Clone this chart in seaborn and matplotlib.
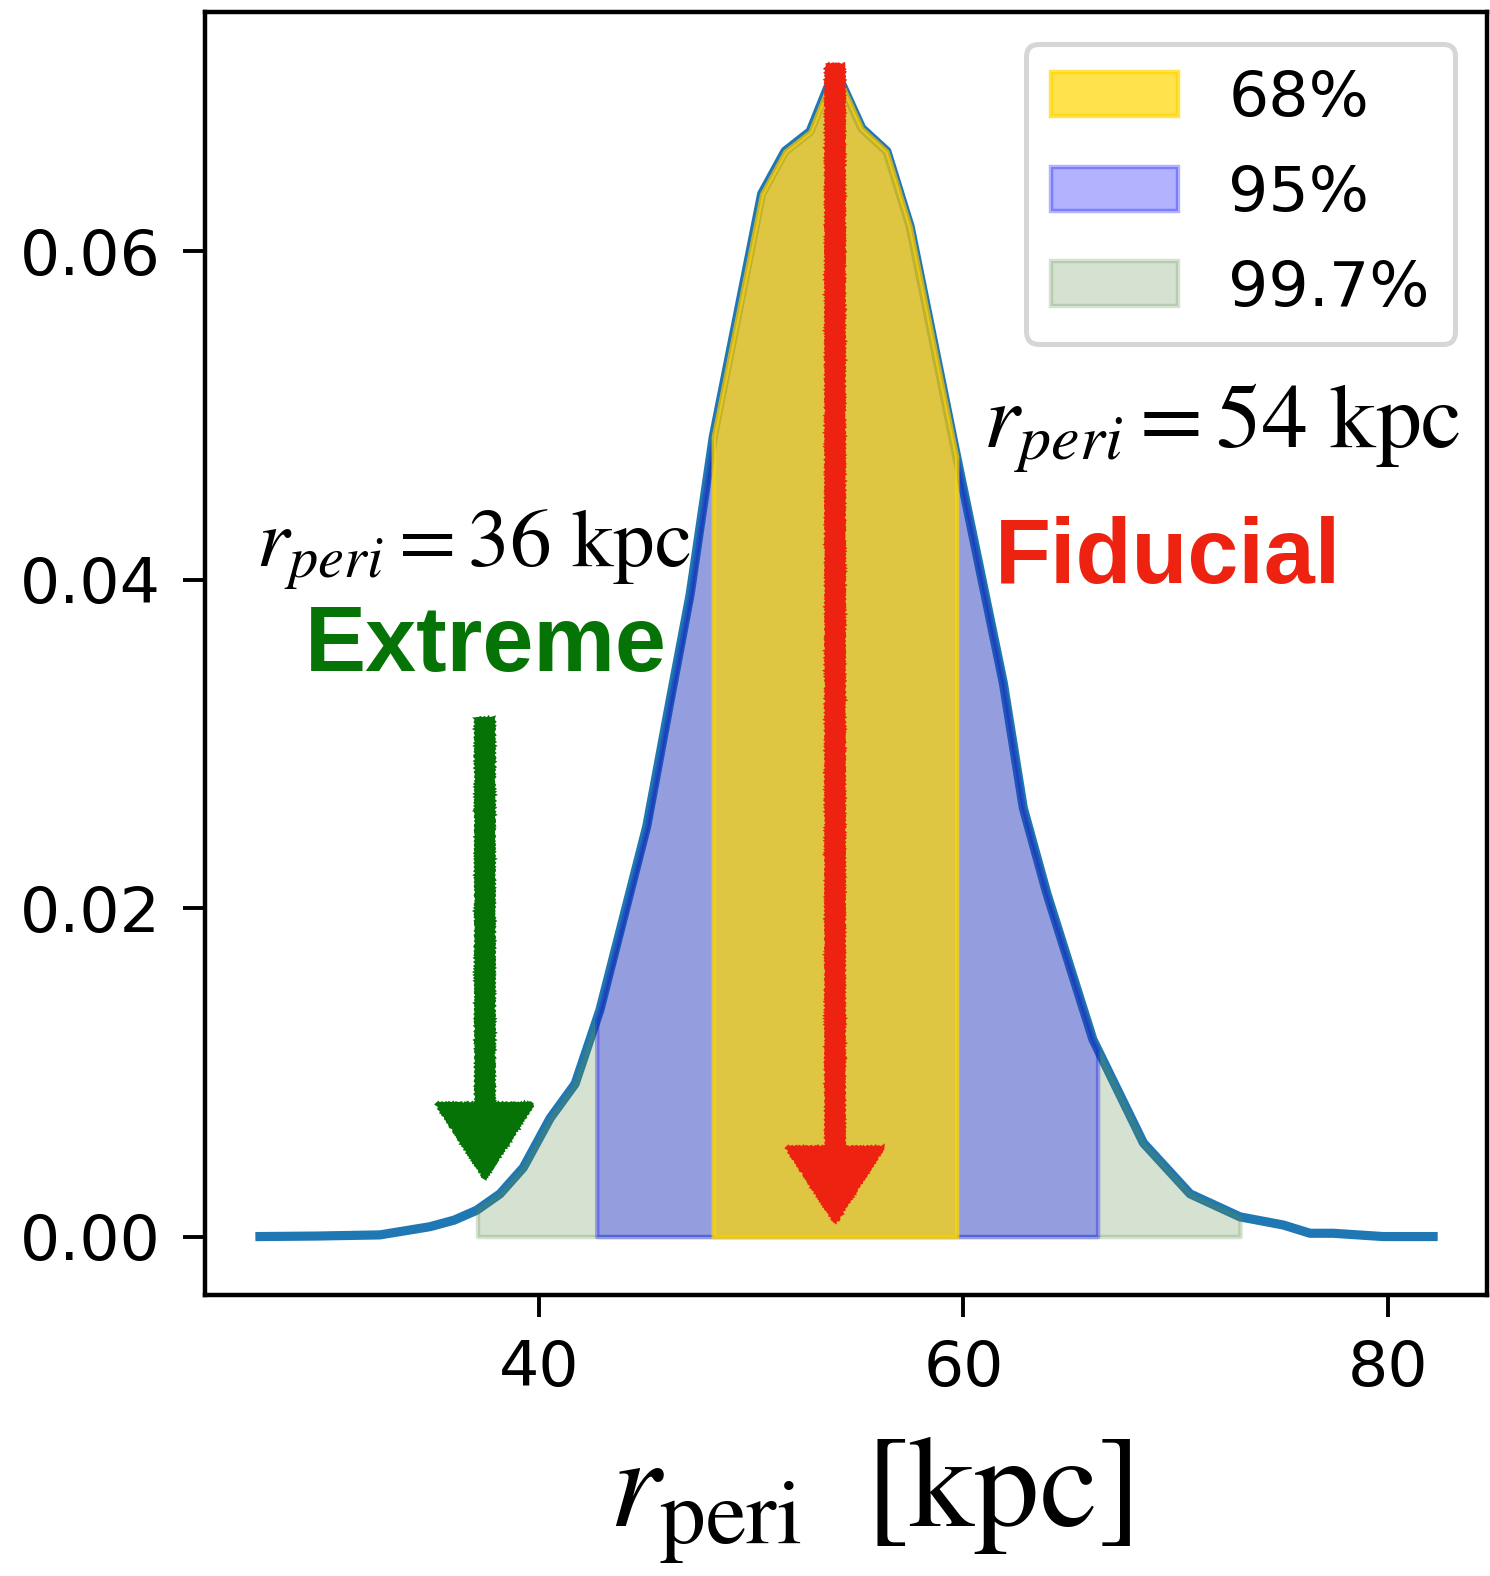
import numpy as np
import pandas as pd
import matplotlib
matplotlib.use("Agg")
import matplotlib.pyplot as plt
import seaborn as sns

plt.rcParams["mathtext.fontset"] = "stix"

# ---------------- data ----------------
r_peri = [26.85, 29.5, 32.5, 34.86, 36.0, 37.06, 38.16, 39.26, 40.52, 41.70,
          42.87, 45.08, 46.17, 47.12, 48.21, 50.49, 51.59, 52.77, 53.95,
          55.21, 56.39, 57.49, 59.6, 61.88, 62.82, 63.93, 66.1, 68.48,
          70.68, 73.03, 75.08, 76.33, 77.42, 79.77, 82.13]
density = [0.0, 0.00003, 0.0001, 0.0006, 0.0010, 0.0016, 0.0026, 0.0042,
           0.0072, 0.0093, 0.0138, 0.0250, 0.0326, 0.0391, 0.0487, 0.0635,
           0.0661, 0.0673, 0.0711, 0.0675, 0.0661, 0.0615, 0.0480, 0.0337,
           0.0261, 0.0209, 0.0120, 0.0057, 0.0026, 0.0012, 0.0007, 0.0002,
           0.0002, 0.0, 0.0]

levels = ["68%", "95%", "99.7%"]
level_lo = [48.21, 42.72, 37.10]
level_hi = [59.68, 66.32, 73.03]
level_colors = ["gold", "blue", "#5B8C4A"]
level_alpha = [0.7, 0.3, 0.25]

fid_r = 53.95       # fiducial arrow position
ext_r = 37.45       # extreme arrow position
x_ticks = [40, 60, 80]
y_ticks = [0.00, 0.02, 0.04, 0.06]

df = pd.DataFrame({"r": r_peri, "p": density})

# ---------------- figure ----------------
W, H = 1490, 1576
fig = plt.figure(figsize=(W / 200, H / 200), dpi=200)
ax = fig.add_axes([205 / W, 1 - 1295 / H, 1282 / W, 1283 / H])

sns.lineplot(data=df, x="r", y="p", ax=ax, color="#1f77b4", lw=3.3,
             zorder=1, estimator=None, sort=True)

xr = np.array(r_peri)
yr = np.array(density)
handles = {}
# draw widest first
for lab, lo, hi, c, a in reversed(list(zip(levels, level_lo, level_hi,
                                            level_colors, level_alpha))):
    mask = (xr > lo) & (xr < hi)
    xs = np.concatenate([[lo], xr[mask], [hi]])
    ys = np.concatenate([[np.interp(lo, xr, yr)], yr[mask],
                         [np.interp(hi, xr, yr)]])
    handles[lab] = ax.fill_between(xs, 0, ys, color=c, alpha=a, label=lab,
                                   zorder=2, lw=1.6)

# hand-drawn-like arrows
def sketch_arrow(x, ytop, ytip, color):
    arr = ax.arrow(x, ytop, 0, ytip - ytop, width=0.8, head_width=4.5,
                   head_length=0.0045, length_includes_head=True,
                   color=color, zorder=6, lw=1.2)
    arr.set_sketch_params(scale=1.0, length=4, randomness=2)
    return arr

sketch_arrow(fid_r, 0.07134, 0.00091, "#EE2211")
sketch_arrow(ext_r, 0.03153, 0.00357, "#067306")

ax.text(60.92, 0.0481, r"$r_{peri} = 54\ \mathrm{kpc}$", fontsize=33,
        va="baseline", ha="left", zorder=7)
ax.text(61.49, 0.0398, "Fiducial", fontsize=33, color="#EE2211",
        fontfamily="Liberation Sans", fontweight="bold", va="baseline",
        ha="left", zorder=7)
ax.text(26.66, 0.0408, r"$r_{peri} = 36\ \mathrm{kpc}$", fontsize=30,
        va="baseline", ha="left", zorder=7)
ax.text(28.97, 0.03447, "Extreme", fontsize=33, color="#067306",
        fontfamily="Liberation Sans", fontweight="bold", va="baseline",
        ha="left", zorder=7)

ax.set_xlim(24.26, 84.67)
ax.set_ylim(-0.00356, 0.07458)
ax.set_xticks(x_ticks)
ax.set_yticks(y_ticks)
ax.set_yticklabels([f"{v:.2f}" for v in y_ticks])
ax.tick_params(axis="both", labelsize=22.8, length=7.8, width=1.4, pad=8,
               direction="out", color="black")
for s in ax.spines.values():
    s.set_linewidth(1.6)
    s.set_color("black")

ax.set_ylabel("")
ax.set_xlabel("")
fig.text(870 / W, 1 - 1500 / H, r"$r_{\mathrm{peri}}\;\ [\mathrm{kpc}]$",
         fontsize=47, ha="center", va="center")

leg = ax.legend([handles[l] for l in levels], levels, loc="upper right",
                fontsize=22.8, fancybox=True, framealpha=0.8, edgecolor="0.8",
                labelspacing=0.55, handlelength=2.0)
leg.get_frame().set_linewidth(1.8)
leg.set_zorder(8)

fig.savefig("out.png", dpi=200)
